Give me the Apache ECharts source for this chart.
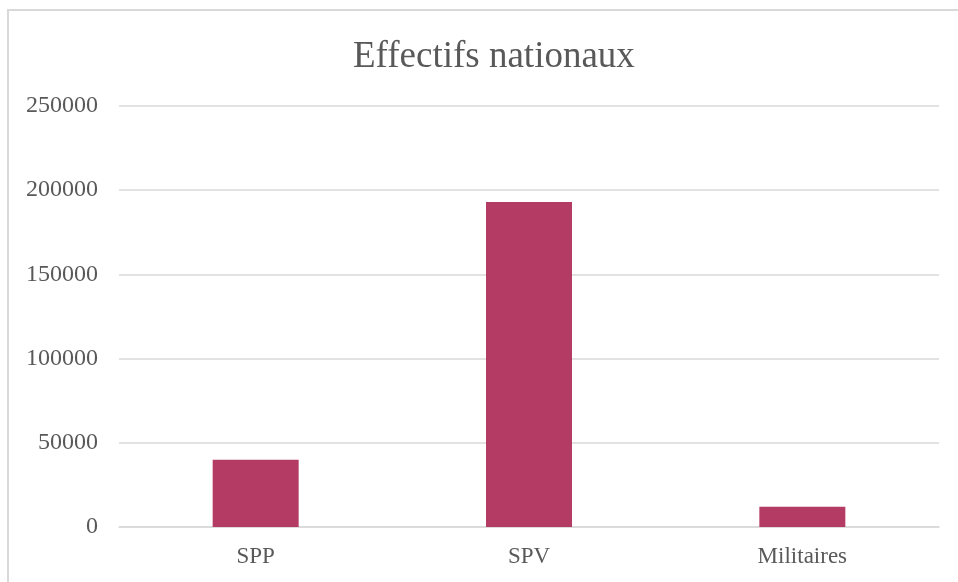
<!DOCTYPE html>
<html>
<head>
<meta charset="utf-8">
<script src="https://cdn.jsdelivr.net/npm/echarts@6/dist/echarts.min.js"></script>
<style>
  html, body { margin: 0; padding: 0; background: #fff; }
  #chart { width: 958px; height: 582px; }
</style>
</head>
<body>
<div id="chart"></div>
<script>
// données du graphique
var categories = ['SPP', 'SPV', 'Militaires'];
var effectifs = [40000, 193000, 12000];
var yTicks = [0, 50000, 100000, 150000, 200000, 250000];

var myChart = echarts.init(document.getElementById('chart'));

var option = {
  backgroundColor: '#fff',
  textStyle: { fontFamily: 'Liberation Serif' },
  title: {
    text: 'Effectifs nationaux',
    left: 348,
    top: 34,
    textStyle: {
      fontFamily: 'Liberation Serif',
      fontSize: 37,
      fontWeight: 'normal',
      color: '#595959'
    }
  },
  // cadre du graphique
  graphic: [{
    type: 'rect',
    shape: { x: 8, y: 10, width: 1000, height: 700 },
    style: { fill: 'none', stroke: '#d9d9d9', lineWidth: 2 },
    silent: true
  }],
  grid: {
    left: 119,
    right: 19,
    top: 106,
    bottom: 55
  },
  xAxis: {
    type: 'category',
    data: categories,
    axisLine: { lineStyle: { color: '#d9d9d9', width: 1.5 } },
    axisTick: { show: false },
    axisLabel: {
      color: '#595959',
      fontSize: 23,
      fontFamily: 'Liberation Serif',
      margin: 18
    }
  },
  yAxis: {
    type: 'value',
    min: yTicks[0],
    max: yTicks[yTicks.length - 1],
    interval: 50000,
    axisLine: { show: false },
    axisTick: { show: false },
    splitLine: { lineStyle: { color: '#d9d9d9', width: 1.5 } },
    axisLabel: {
      color: '#595959',
      fontSize: 24,
      fontFamily: 'Liberation Serif',
      margin: 21,
      formatter: function (v) { return String(v); }
    }
  },
  series: [{
    name: 'Effectifs',
    type: 'bar',
    data: effectifs,
    barWidth: 86,
    itemStyle: { color: '#B43C64' }
  }]
};

myChart.setOption(option);
</script>
</body>
</html>
